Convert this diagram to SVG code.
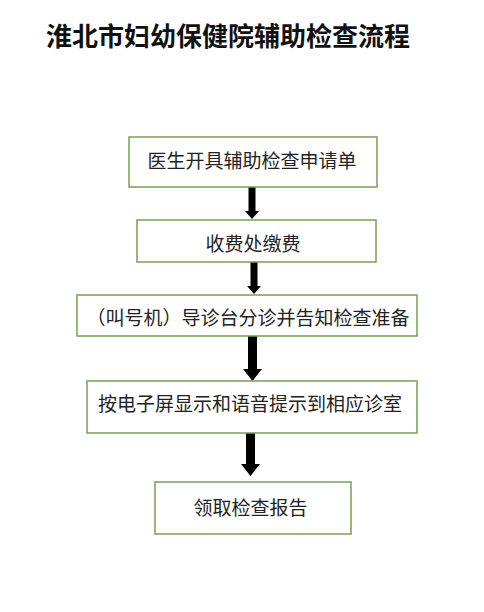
<svg xmlns="http://www.w3.org/2000/svg" width="484" height="612" viewBox="0 0 484 612">
<style>
.box{fill:#fff;stroke:#7a9e55;stroke-width:1.5}
.t{font-family:"Noto Sans CJK SC","Noto Sans",sans-serif;font-size:19px;fill:#222;text-anchor:middle}
.title{font-family:"Noto Sans CJK SC","Noto Sans",sans-serif;font-size:26px;font-weight:bold;fill:#111;text-anchor:middle}
.arr{fill:#000}
</style>
<rect width="484" height="612" fill="#fff"/>
<text class="title" x="228" y="46">淮北市妇幼保健院辅助检查流程</text>
<g id="connectors">
<path class="arr" d="M248.5,187 H255.5 V211 H259 L252,219 L245,211 H248.5 Z"/>
<path class="arr" d="M250.5,262 H257.5 V286 H261 L254,294 L247,286 H250.5 Z"/>
<path class="arr" d="M248,336 H257 V369 H262 L252.5,381 L243,369 H248 Z"/>
<path class="arr" d="M246,433 H255 V464 H260 L250.5,476 L241,464 H246 Z"/>
</g>
<g id="n1"><rect class="box" x="129" y="137" width="248" height="50"/><text class="t" x="252" y="168">医生开具辅助检查申请单</text></g>
<g id="n2"><rect class="box" x="137" y="220" width="239" height="42"/><text class="t" x="253" y="251">收费处缴费</text></g>
<g id="n3"><rect class="box" x="77" y="295" width="340" height="41"/><text class="t" x="248" y="325">（叫号机）导诊台分诊并告知检查准备</text></g>
<g id="n4"><rect class="box" x="87" y="381" width="330" height="52"/><text class="t" x="250" y="411">按电子屏显示和语音提示到相应诊室</text></g>
<g id="n5"><rect class="box" x="155" y="482" width="196" height="52"/><text class="t" x="250.5" y="515">领取检查报告</text></g>
</svg>
